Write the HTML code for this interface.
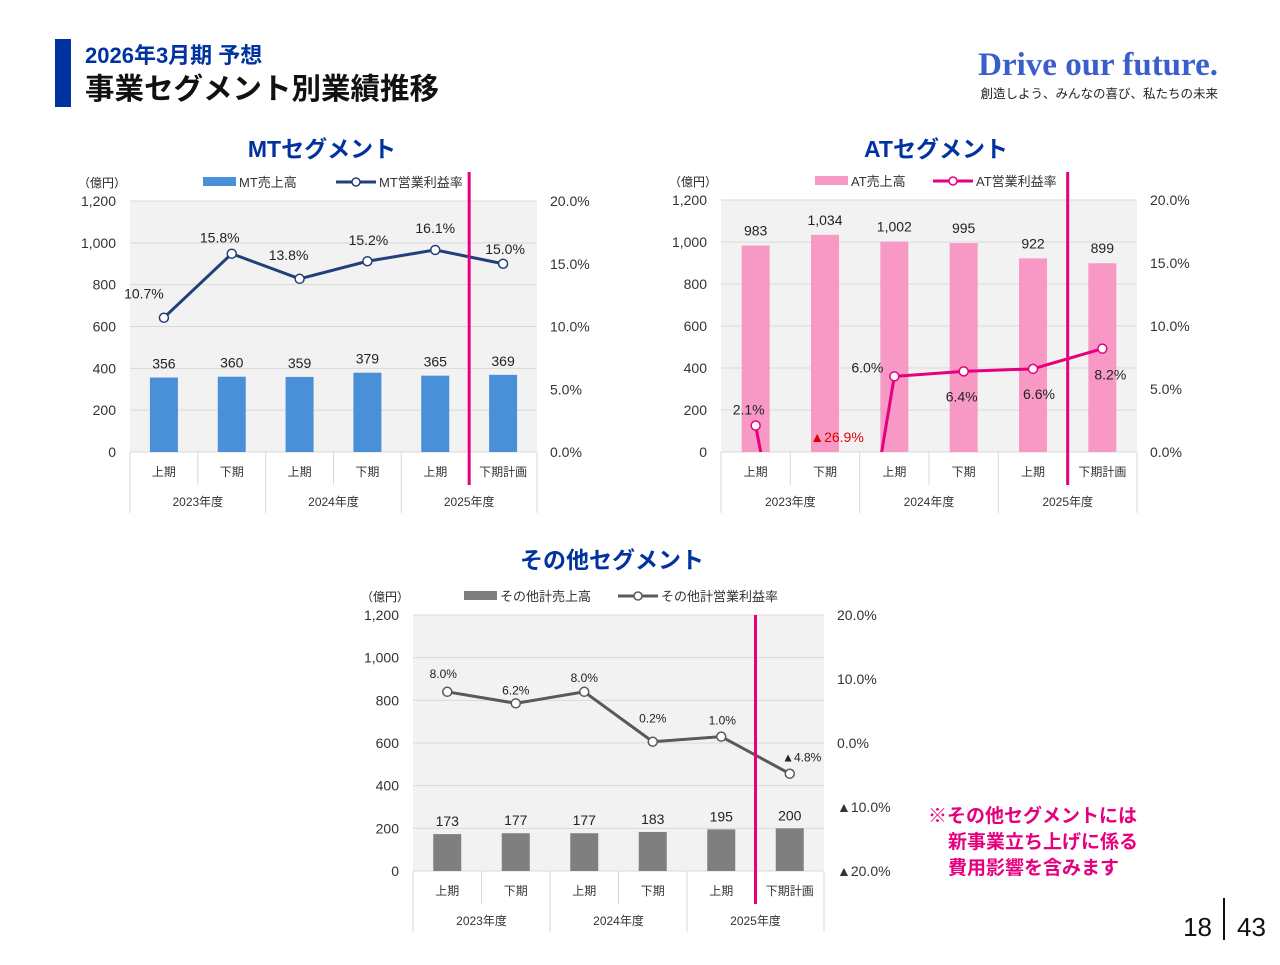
<!DOCTYPE html>
<html><head><meta charset="utf-8">
<style>
body{margin:0;width:1280px;height:960px;background:#fff;overflow:hidden;font-family:"Liberation Sans","Noto Sans CJK JP",sans-serif;}
svg text{font-family:"Liberation Sans","Noto Sans CJK JP",sans-serif;}
</style></head>
<body>
<svg id="slide" width="1280" height="960" xmlns="http://www.w3.org/2000/svg">
<rect x="55" y="39" width="16" height="68" fill="#0033a0"/>
<text x="85" y="63" font-size="22" font-weight="bold" fill="#0033a0">2026年3月期 予想</text>
<text x="85" y="99" font-size="29.5" font-weight="bold" fill="#111">事業セグメント別業績推移</text>
<text x="1218" y="75" text-anchor="end" font-size="33" font-weight="bold" fill="#3a5fcd" style="font-family:'Liberation Serif',serif">Drive our future.</text>
<text x="1218" y="98" text-anchor="end" font-size="12.5" fill="#222">創造しよう、みんなの喜び、私たちの未来</text>
<text x="322" y="157" text-anchor="middle" font-size="23" font-weight="bold" fill="#0033a0">MTセグメント</text>
<text x="936" y="157" text-anchor="middle" font-size="23" font-weight="bold" fill="#0033a0">ATセグメント</text>
<text x="612" y="568" text-anchor="middle" font-size="23" font-weight="bold" fill="#0033a0">その他セグメント</text>
<g font-size="19" font-weight="bold" fill="#e6007e">
<text x="928" y="822">※その他セグメントには</text>
<text x="948" y="848">新事業立ち上げに係る</text>
<text x="948" y="874">費用影響を含みます</text>
</g>
<text x="1212" y="936" text-anchor="end" font-size="26" fill="#111">18</text>
<line x1="1224" y1="898" x2="1224" y2="940" stroke="#111" stroke-width="2"/>
<text x="1237" y="936" font-size="26" fill="#111">43</text>
</svg>
<script>
const categories=['上期','下期','上期','下期','上期','下期計画'];
const years=['2023年度','2024年度','2025年度'];
const leftTicks=[0,200,400,600,800,1000,1200];
const mtSales=[356,360,359,379,365,369];
const mtMargin=[10.7,15.8,13.8,15.2,16.1,15.0];
const atSales=[983,1034,1002,995,922,899];
const atMargin=[2.1,-26.9,6.0,6.4,6.6,8.2];
const otherSales=[173,177,177,183,195,200];
const otherMargin=[8.0,6.2,8.0,0.2,1.0,-4.8];
const posRightTicks=[0,5,10,15,20];
const otherRightTicks=[-20,-10,0,10,20];

const NS='http://www.w3.org/2000/svg';
const svg=document.getElementById('slide');
function mk(tag,attrs,parent,txt){const e=document.createElementNS(NS,tag);for(const k in attrs)e.setAttribute(k,attrs[k]);if(txt!==undefined)e.textContent=txt;(parent||svg).appendChild(e);return e;}
function pct(v){return (v<0?'▲':'')+Math.abs(v).toFixed(1)+'%';}

function chart(c){
  const g=mk('g',{});
  
  
  const n=c.sales.length, bw=(c.x1-c.x0)/n;
  const yL=v=>c.y1-(v/1200)*(c.y1-c.y0);
  const yR=v=>c.y1-((v-c.rmin)/(c.rmax-c.rmin))*(c.y1-c.y0);
  const xC=i=>c.x0+bw*(i+0.5);
  const bg=mk('rect',{x:c.x0,y:c.y0,width:c.x1-c.x0,height:c.y1-c.y0,fill:'#f2f2f2'},g);
  
  
  leftTicks.forEach(t=>{
    if(t>0){const gl=mk('line',{x1:c.x0,x2:c.x1,y1:yL(t),y2:yL(t),stroke:'#d9d9d9','stroke-width':1},g);
    
    }
    const tl=mk('text',{x:c.x0-14,y:yL(t)+5,'text-anchor':'end','font-size':14,fill:'#333'},g,t.toLocaleString('en-US'));
    
    
  });
  c.rticks.forEach(t=>{
    const tl=mk('text',{x:c.x1+13,y:yR(t)+5,'font-size':14,fill:'#333'},g,pct(t));
    
    
  });
  const u=mk('text',{x:c.x0-52,y:c.y0-14,'font-size':12,fill:'#222'},g,'（億円）');
  
  
  const by=c.y1, r1=by+33, r2=by+61;
  mk('line',{x1:c.x0,x2:c.x1,y1:by,y2:by,stroke:'#d9d9d9'},g);
  for(let i=0;i<=n;i++){
    const x=c.x0+bw*i, full=(i%2===0);
    mk('line',{x1:x,x2:x,y1:by,y2:full?r2:r1,stroke:'#d9d9d9'},g);
  }
  categories.forEach((s,i)=>{
    const t=mk('text',{x:xC(i),y:by+24,'text-anchor':'middle','font-size':12,fill:'#333'},g,s);
    
    
  });
  years.forEach((s,i)=>{
    const t=mk('text',{x:c.x0+bw*(2*i+1),y:by+54,'text-anchor':'middle','font-size':12,fill:'#333'},g,s);
    
    
  });
  c.sales.forEach((v,i)=>{
    const b=mk('rect',{x:xC(i)-14,y:yL(v),width:28,height:c.y1-yL(v),fill:c.barColor},g);
    
    
    const t=mk('text',{x:xC(i),y:yL(v)-c.barLabDy,'text-anchor':'middle','font-size':14,fill:'#222'},g,v.toLocaleString('en-US'));
    
    
  });
  const cid='clip'+c.name;
  const cp=mk('clipPath',{id:cid},g);
  mk('rect',{x:c.x0,y:c.y0-10,width:c.x1-c.x0,height:c.y1-c.y0+10},cp);
  const lg=mk('g',{'clip-path':'url(#'+cid+')'},g);
  const pts=c.margin.map((v,i)=>xC(i)+','+yR(v)).join(' ');
  const pl=mk('polyline',{points:pts,fill:'none',stroke:c.lineColor,'stroke-width':3},lg);
  
  
  c.margin.forEach((v,i)=>{
    const p=mk('circle',{cx:xC(i),cy:yR(v),r:4.5,fill:'#fff',stroke:c.lineColor,'stroke-width':1.5},lg);
    
    
    const o=c.labOff[i];
    const red=v<0&&c.redNeg;
    const lx=red?c.negLabel[0]:xC(i)+o[0], ly=red?c.negLabel[1]:yR(v)+o[1];
    const t=mk('text',{x:lx,y:ly,'text-anchor':'middle','font-size':c.lineLabSize,fill:red?'#e00000':'#222'},g,pct(v));
    
    
  });
  const fx=c.x0+bw*5;
  const fl=mk('line',{x1:fx,x2:fx,y1:c.divTop,y2:c.y1+33,stroke:'#e6007e','stroke-width':3},g);
  
  
  const lx=c.legendX, ly=c.y0-19;
  const ls=mk('rect',{x:lx,y:ly-5,width:33,height:9,fill:c.barColor},g);
  
  
  const lt=mk('text',{x:lx+36,y:ly+5,'font-size':13,fill:'#333'},g,c.legend[0]);
  
  
  const l2=lx+c.legendGap;
  mk('line',{x1:l2,x2:l2+40,y1:ly,y2:ly,stroke:c.lineColor,'stroke-width':3},g);
  mk('circle',{cx:l2+20,cy:ly,r:4,fill:'#fff',stroke:c.lineColor,'stroke-width':1.5},g);
  const lt2=mk('text',{x:l2+43,y:ly+5,'font-size':13,fill:'#333'},g,c.legend[1]);
  
  
}

chart({name:'mt-chart',x0:130,x1:537,y0:201,y1:452,rmin:0,rmax:20,rticks:posRightTicks,sales:mtSales,margin:mtMargin,
  barColor:'#4a90d9',lineColor:'#223f7a',barLabDy:9,lineLabSize:14,
  labOff:[[-20,-19],[-12,-11],[-11,-19],[1,-16],[0,-17],[2,-10]],divTop:172,
  legendX:203,legendGap:133,legend:['MT売上高','MT営業利益率']});
chart({name:'at-chart',x0:721,x1:1137,y0:200,y1:452,rmin:0,rmax:20,rticks:posRightTicks,sales:atSales,margin:atMargin,
  barColor:'#f799c4',lineColor:'#e6007e',barLabDy:10,lineLabSize:14,redNeg:true,negLabel:[837,442],
  labOff:[[-7,-11],[0,0],[-27,-4],[-2,30],[6,30],[8,31]],divTop:172,
  legendX:815,legendGap:118,legend:['AT売上高','AT営業利益率']});
chart({name:'other-chart',x0:413,x1:824,y0:615,y1:871,rmin:-20,rmax:20,rticks:otherRightTicks,sales:otherSales,margin:otherMargin,
  barColor:'#7f7f7f',lineColor:'#595959',barLabDy:8,lineLabSize:12,
  labOff:[[-4,-14],[0,-9],[0,-10],[0,-19],[1,-12],[12,-12]],divTop:615,
  legendX:464,legendGap:154,legend:['その他計売上高','その他計営業利益率']});
</script>
</body></html>
